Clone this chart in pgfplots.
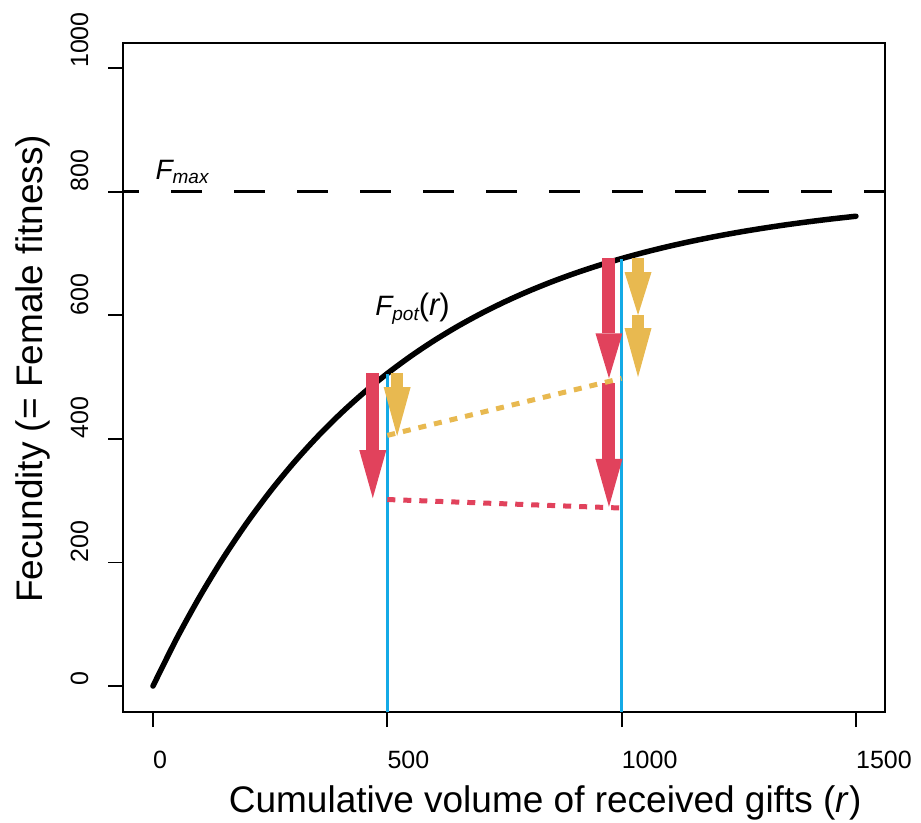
\documentclass[border=0pt]{standalone}
\usepackage{fontspec}
\setmainfont{Liberation Sans}
\usepackage{pgfplots}
\pgfplotsset{compat=1.18}
\usetikzlibrary{arrows.meta}
\definecolor{redA}{RGB}{225,66,92}
\definecolor{yelA}{RGB}{232,185,80}
\definecolor{bluA}{RGB}{20,170,230}
\begin{document}
\begin{tikzpicture}
\path[use as bounding box] (0,0) rectangle (921bp,823bp);
\begin{axis}[
  at={(123bp,111bp)}, anchor=south west,
  width=762bp, height=669bp, scale only axis,
  xmin=-64, xmax=1562, ymin=-42, ymax=1040.5,
  axis line style={line width=1.8bp},
  tick pos=left, tick align=outside,
  major tick length=15bp,
  tick style={line width=1.8bp, black},
  xtick={0,500,1000,1500}, xticklabels={0,500,1000,1500},
  ytick={0,200,400,600,800,1000}, yticklabels={0,200,400,600,800,1000},
  /pgf/number format/assume math mode=true,
  xticklabel style={anchor=base west, inner sep=0pt, font=\fontsize{25bp}{25bp}\selectfont},
  xticklabel shift=41bp,
  yticklabel style={rotate=90, anchor=base west, inner sep=0pt, font=\fontsize{25bp}{25bp}\selectfont},
  yticklabel shift=20bp,
  xlabel={Cumulative volume of received gifts (\textit{r})},
  xlabel style={at={(rel axis cs:0.554,0)}, anchor=base, yshift=-100bp, inner sep=0pt, font=\fontsize{37bp}{37bp}\selectfont},
  ylabel={Fecundity (= Female fitness)},
  ylabel style={at={(rel axis cs:-0.105,0.513)}, anchor=base, rotate=0, inner sep=0pt, font=\fontsize{37bp}{37bp}\selectfont},
  clip=false,
]
% potential fecundity curve
\addplot[black, line width=5.5bp, line cap=round, smooth] coordinates {
(0,0) (50,76.13) (100,145.02) (150,207.35) (200,263.74) (250,314.78)
(300,360.95) (350,402.73) (400,440.54) (450,474.74) (500,505.70)
(550,533.70) (600,559.04) (650,581.97) (700,602.72) (750,621.50)
(800,638.48) (850,653.85) (900,667.76) (950,680.35) (1000,691.73)
(1050,702.04) (1100,711.36) (1150,719.79) (1200,727.43) (1250,734.33)
(1300,740.58) (1350,746.24) (1400,751.35) (1450,755.98) (1500,760.17)
};
% Fmax
\addplot[black, line width=2.5bp, dash pattern=on 31bp off 32bp, dash phase=15bp] coordinates {(-64,800) (1562,800)};
% blue verticals
\addplot[bluA, line width=3bp] coordinates {(500,-42) (500,505.7)};
\addplot[bluA, line width=3bp] coordinates {(1000,-42) (1000,691.7)};
% red arrows
\addplot[redA, line width=13bp, -{Triangle[width=27bp,length=48bp,line width=0pt]}] coordinates {(469,506) (469,304)};
\addplot[redA, line width=13bp, -{Triangle[width=27bp,length=45bp,line width=0pt]}] coordinates {(973,692) (973,498)};
\addplot[redA, line width=13bp, -{Triangle[width=27bp,length=48bp,line width=0pt]}] coordinates {(973,490) (973,290)};
% yellow arrows
\addplot[yelA, line width=12bp, -{Triangle[width=27bp,length=49bp,line width=0pt]}] coordinates {(521,506) (521,404.5)};
\addplot[yelA, line width=12bp, -{Triangle[width=27bp,length=43bp,line width=0pt]}] coordinates {(1035,692) (1035,600.3)};
\addplot[yelA, line width=12bp, -{Triangle[width=27bp,length=49bp,line width=0pt]}] coordinates {(1035,600.3) (1035,500)};
% dotted lines
\addplot[yelA, line width=5bp, dash pattern=on 8bp off 8bp] coordinates {(500,405.6) (1000,497.9)};
\addplot[redA, line width=5bp, dash pattern=on 8bp off 8bp] coordinates {(500,301.8) (1000,288)};
% annotations
\node[anchor=base west, inner sep=0pt] at (axis cs:5,819) {\fontsize{28bp}{28bp}\selectfont\itshape F\raisebox{-4bp}{\fontsize{19bp}{19bp}\selectfont max}};
\node[anchor=base west, inner sep=0pt] at (axis cs:474,600) {\fontsize{28bp}{28bp}\selectfont\itshape F\raisebox{-5bp}{\fontsize{19bp}{19bp}\selectfont pot}{\fontsize{31bp}{31bp}\selectfont\upshape(\itshape r\upshape)}};
\end{axis}
\end{tikzpicture}
\end{document}
